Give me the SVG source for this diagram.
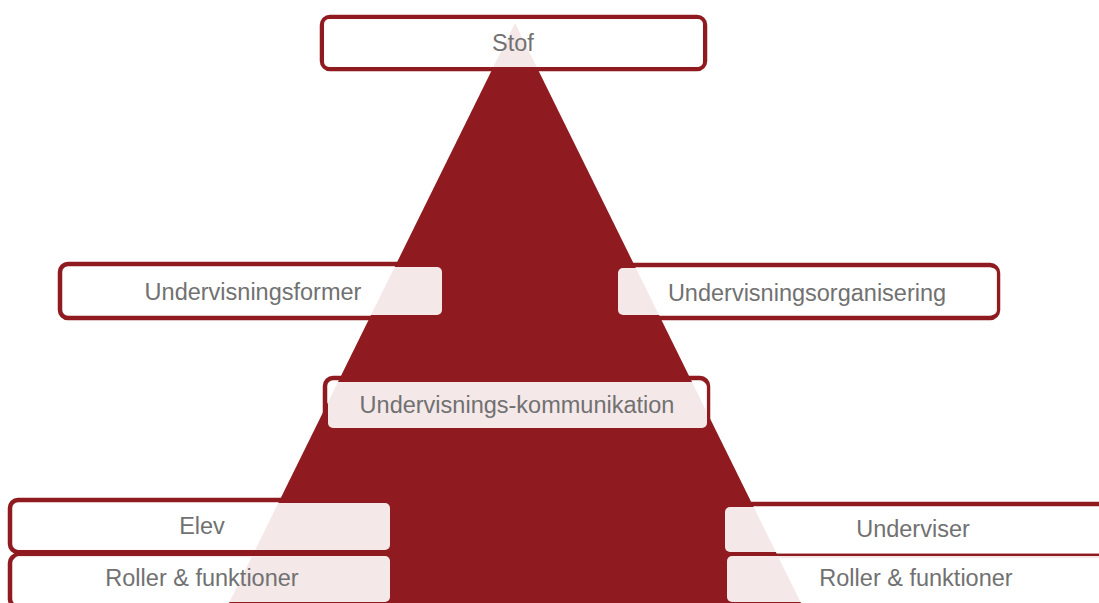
<svg xmlns="http://www.w3.org/2000/svg" width="1099" height="603" viewBox="0 0 1099 603">
<style>
.frame{fill:#ffffff;stroke:#8f1a1f;stroke-width:4.5}
.box{fill:#ffffff;fill-opacity:0.9}
.lbl{font-family:"Liberation Sans",Arial,sans-serif;font-size:23.5px;fill:#717171;text-anchor:middle}
</style>
<rect width="1099" height="603" fill="#ffffff"/>
<g id="frames">
<rect class="frame" x="322" y="17" width="383" height="52" rx="8"/>
<rect class="frame" x="60" y="264" width="383" height="54" rx="8"/>
<rect class="frame" x="615" y="265" width="383" height="53" rx="8"/>
<rect class="frame" x="325" y="378" width="383" height="52" rx="8"/>
<rect class="frame" x="10" y="500" width="383" height="52" rx="8"/>
<rect class="frame" x="10" y="555" width="383" height="52" rx="8"/>
<rect class="frame" x="728" y="504" width="383" height="52" rx="8"/>
<rect class="frame" x="728" y="556" width="383" height="52" rx="8"/>
</g>
<polygon id="pyramid" points="515,23 228,605 802,605" fill="#8f1a1f"/>
<g id="stof">
<rect class="box" x="324" y="19" width="379" height="48" rx="5"/>
<text class="lbl" x="513" y="51">Stof</text>
</g>
<g id="undervisningsformer">
<rect class="box" x="65" y="267" width="377" height="48" rx="5"/>
<text class="lbl" x="253" y="300">Undervisningsformer</text>
</g>
<g id="undervisningsorganisering">
<rect class="box" x="618" y="268" width="379" height="47" rx="5"/>
<text class="lbl" x="807" y="301">Undervisningsorganisering</text>
</g>
<g id="kommunikation">
<rect class="box" x="328" y="382" width="379" height="46" rx="5"/>
<text class="lbl" x="517" y="413">Undervisnings-kommunikation</text>
</g>
<g id="elev">
<rect class="box" x="14" y="503" width="376" height="47" rx="5"/>
<text class="lbl" x="202" y="534">Elev</text>
</g>
<g id="elev-roller">
<rect class="box" x="14" y="556" width="376" height="46" rx="5"/>
<text class="lbl" x="202" y="586">Roller &amp; funktioner</text>
</g>
<g id="underviser">
<rect class="box" x="725" y="507" width="378" height="45" rx="5"/>
<text class="lbl" x="913" y="537">Underviser</text>
</g>
<g id="underviser-roller">
<rect class="box" x="727" y="556" width="378" height="46" rx="5"/>
<text class="lbl" x="916" y="586">Roller &amp; funktioner</text>
</g>
<g id="connectors"></g>
</svg>
